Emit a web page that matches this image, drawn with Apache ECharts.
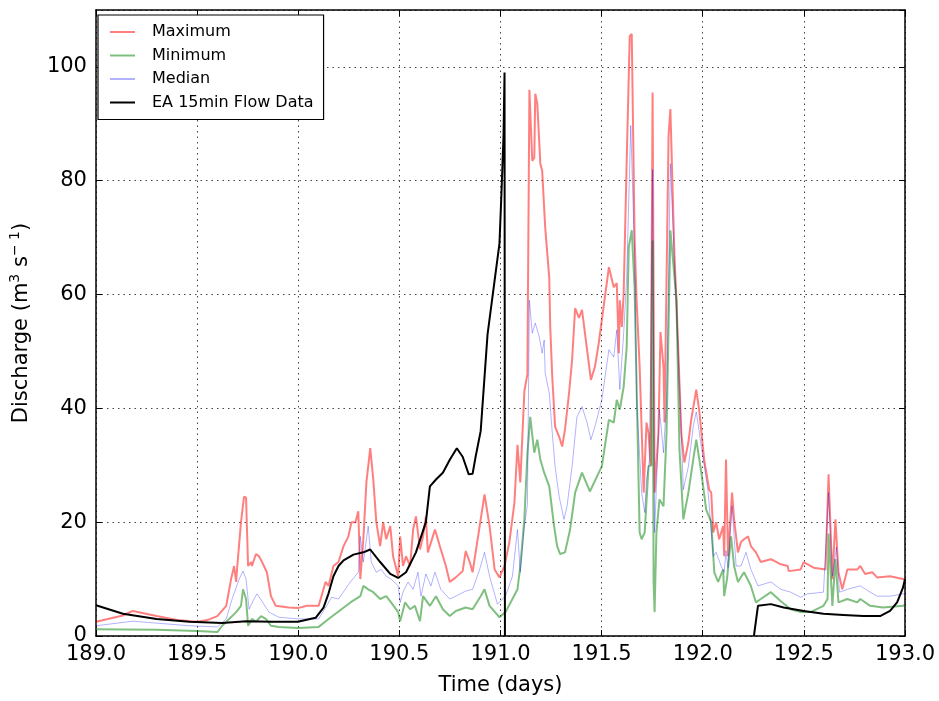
<!DOCTYPE html>
<html>
<head>
<meta charset="utf-8">
<script src="https://cdn.jsdelivr.net/npm/echarts@6/dist/echarts.min.js"></script>
<style>
html,body{margin:0;padding:0;background:#fff;}
#chart{width:939px;height:701px;}
</style>
</head>
<body>
<div id="chart"></div>
<script>
// ---- Data (time in days, discharge in m3/s) ----
const seriesNames = ['Maximum', 'Minimum', 'Median', 'EA 15min Flow Data'];
const xTicks = [189.0, 189.5, 190.0, 190.5, 191.0, 191.5, 192.0, 192.5, 193.0];
const yTicks = [0, 20, 40, 60, 80, 100];

const maxTime = [189.000,189.133,189.182,189.300,189.400,189.500,189.550,189.600,189.644,189.668,189.683,189.693,189.698,189.717,189.732,189.742,189.752,189.767,189.771,189.791,189.806,189.821,189.845,189.865,189.889,189.953,189.998,190.042,190.101,190.135,190.150,190.174,190.199,190.224,190.248,190.263,190.283,190.297,190.307,190.322,190.337,190.356,190.371,190.386,190.405,190.420,190.435,190.455,190.469,190.494,190.504,190.518,190.533,190.553,190.568,190.582,190.602,190.617,190.631,190.641,190.676,190.700,190.730,190.749,190.779,190.813,190.828,190.848,190.862,190.897,190.921,190.946,190.971,190.995,191.020,191.044,191.069,191.084,191.098,191.118,191.133,191.143,191.157,191.167,191.172,191.182,191.197,191.206,191.221,191.241,191.246,191.256,191.270,191.290,191.305,191.319,191.339,191.354,191.369,191.388,191.403,191.428,191.447,191.467,191.486,191.501,191.536,191.560,191.575,191.585,191.590,191.600,191.609,191.624,191.639,191.649,191.663,191.673,191.688,191.708,191.722,191.732,191.742,191.752,191.762,191.781,191.791,191.806,191.811,191.831,191.840,191.860,191.870,191.894,191.909,191.929,191.943,191.968,191.983,192.007,192.032,192.042,192.052,192.066,192.081,192.101,192.106,192.115,192.125,192.145,192.155,192.174,192.189,192.204,192.224,192.238,192.263,192.287,192.337,192.386,192.420,192.425,192.484,192.499,192.548,192.607,192.622,192.641,192.656,192.671,192.690,192.715,192.764,192.779,192.803,192.838,192.862,192.926,192.990,193.000];
const maxFlow = [2.5,3.6,4.4,3.5,2.8,2.5,2.8,3.5,5.3,10,12.3,9.5,12,20,24.5,24.3,12.3,13,12.3,14.4,14,13,11.2,7,5.3,5,4.9,5.3,5.3,9.5,8.8,12.3,13,15.8,17.5,20,20,21.9,10,17,27,33,27.5,20,15.8,20,17,19.3,14,10.5,17.5,12.3,14,12.3,18.7,21,15.2,17.5,21,14.7,18.7,15.8,12.3,9.5,10.3,11.4,14.9,13,11.2,19.3,24.9,19.3,11.7,10.3,12.3,16.5,23.5,33.6,27,43,46,96,83.5,84,95.3,93.5,83,81.8,71.8,63,54.3,45.5,36.8,35,33.3,36.3,42.7,48.5,57.6,55.9,57.3,50.3,45,47.3,51.5,55.5,64.8,61.3,62,49.7,59,54.3,60.2,83.5,105.4,105.8,70,59,47.3,25.2,37.5,35.7,30,95.5,25.2,35.7,53.4,47.3,37.5,88,92.6,67,59,35.7,30.5,34,38,43.3,39.5,31,25.7,25.2,18.2,20,17,19.3,14,31,14,25.2,20.5,14.7,16.5,17,17.5,15.8,14.7,13,13.5,12.6,12.3,11.4,11.7,13,12,11.7,28.4,10,20.5,11.2,8.2,11.7,11.7,12.3,10.9,11.2,10.3,10.5,10,10];

const minTime = [189.000,189.300,189.500,189.600,189.624,189.658,189.693,189.717,189.727,189.742,189.752,189.771,189.791,189.816,189.840,189.865,189.904,189.998,190.101,190.150,190.258,190.307,190.322,190.346,190.371,190.405,190.435,190.459,190.494,190.504,190.528,190.553,190.577,190.602,190.617,190.651,190.681,190.715,190.749,190.779,190.828,190.862,190.902,190.921,190.946,190.995,191.025,191.059,191.084,191.098,191.118,191.133,191.147,191.167,191.182,191.197,191.216,191.241,191.265,191.280,191.295,191.319,191.344,191.369,191.403,191.442,191.486,191.501,191.536,191.560,191.575,191.590,191.609,191.624,191.634,191.649,191.663,191.688,191.698,191.713,191.732,191.747,191.752,191.757,191.762,191.771,191.786,191.806,191.821,191.840,191.870,191.885,191.904,191.929,191.953,191.968,191.993,192.017,192.042,192.057,192.076,192.101,192.106,192.120,192.140,192.155,192.174,192.204,192.238,192.263,192.287,192.337,192.386,192.435,192.484,192.533,192.597,192.617,192.622,192.641,192.656,192.671,192.715,192.764,192.779,192.828,192.892,192.990,193.000];
const minFlow = [1.2,1.1,0.9,0.7,1.8,3,4.2,5.3,8.2,6.5,1.8,3,2.5,3.5,3,1.8,1.6,1.4,1.6,3,5.9,7,8.8,8.2,7.7,6.5,7,5.9,4.2,2.6,5.9,4.7,5.3,2.6,7,5.3,7,4.7,3.5,4.4,5,4.7,7,8.2,5.3,3.3,4.2,6.5,8.2,12.3,20.5,32,38.5,32.2,34.5,31,28.7,26.3,19.3,15.8,14.4,14.7,18.7,25.2,28.7,25.4,28.7,29.8,38,37.5,41.5,39.8,43.8,50.8,68.3,71.3,61.3,18.2,17,18.2,29.8,30,69.5,9.5,4.2,18.2,24,22.8,35.7,71.3,59,32.7,20.5,25.2,31,34.5,28.7,22.2,20,11.2,9.5,11.7,7,10,17.5,12.3,9.5,11.2,8.8,5.9,6.5,7.7,6.1,4.7,4.2,4.2,5.3,6.5,18,5.3,13.5,5.9,6.5,5.9,6.5,5.3,5,5.3,5.5];

const medTime = [189.000,189.182,189.462,189.600,189.644,189.673,189.708,189.727,189.742,189.757,189.781,189.796,189.821,189.855,189.904,189.998,190.101,190.140,190.165,190.199,190.258,190.297,190.307,190.322,190.346,190.361,190.386,190.410,190.435,190.459,190.494,190.504,190.518,190.543,190.568,190.592,190.607,190.631,190.656,190.676,190.705,190.749,190.779,190.828,190.862,190.897,190.921,190.946,190.985,191.025,191.059,191.084,191.098,191.118,191.133,191.143,191.157,191.172,191.192,191.206,191.216,191.221,191.241,191.256,191.270,191.290,191.314,191.329,191.354,191.378,191.403,191.428,191.447,191.467,191.501,191.536,191.560,191.575,191.590,191.609,191.624,191.644,191.663,191.673,191.698,191.713,191.722,191.737,191.752,191.762,191.771,191.786,191.806,191.821,191.840,191.885,191.904,191.929,191.953,191.968,191.993,192.027,192.052,192.066,192.091,192.106,192.115,192.125,192.145,192.165,192.189,192.214,192.238,192.273,192.337,192.386,192.435,192.484,192.518,192.597,192.622,192.641,192.661,192.676,192.715,192.779,192.828,192.862,192.926,192.990,193.000];
const medFlow = [1.8,2.6,1.8,1.6,3,6.5,10,11.4,10,4.7,6.5,7.4,6.1,4.2,3.3,3,3,5.3,6.8,6.5,9.5,11.2,17.5,13,19.3,13,11.2,11.7,10.5,10,8.8,5.9,7.7,9.5,8.2,11.2,7,10.9,8.8,11.2,8.2,6.5,7,7.9,8.2,11.7,14.7,10.5,5.6,7,10.5,18.7,11.2,19.3,23.1,59,53.2,55,52.5,49.7,52,46.2,42.7,35.7,29.8,24.5,20.5,22.8,29.8,38.5,40.3,37.5,34.5,36.8,41.5,50.3,49,53.8,43.3,53.2,63,89.7,67,41.5,25.2,21.7,27.5,31,82,18.2,26.3,39.8,32.2,41.5,83,44.5,25.7,29.8,36.8,39.4,33.3,25.2,14,14.7,12.3,11.2,15,12,22.8,12.3,12.3,14.7,11.7,8.8,9.5,8.2,7.7,6.8,7.4,7.7,25.2,10.5,15.6,7.7,8.2,8.8,7.7,7,7,7.4,7.4];

const eaTime = [189.000,189.133,189.300,189.462,189.624,189.742,189.870,189.998,190.086,190.125,190.150,190.174,190.199,190.224,190.273,190.322,190.356,190.405,190.455,190.494,190.533,190.582,190.631,190.651,190.681,190.715,190.750,190.784,190.813,190.843,190.862,190.877,190.902,190.936,190.971,190.995,191.005,191.015,191.020,191.022,191.030,192.253,192.273,192.337,192.400,192.499,192.597,192.695,192.794,192.877,192.926,192.961,192.990,193.000];
const eaFlow = [5.4,3.9,3,2.5,2.3,2.6,2.5,2.5,3.2,5,7.5,10.5,12.3,13.3,14.3,14.7,15.2,13,10.9,10.2,11.2,14.7,20,26.3,27.5,28.7,31,33,31.5,28.4,28.5,31.5,36,53,62.5,69,78,88,99,0,null,0,5.3,5.6,5,4.4,3.9,3.7,3.5,3.5,4.4,5.9,8.5,10];

// ---- Chart ----
function pairs(t, v) { return t.map((x, i) => [x, v[i] === null ? '-' : v[i]]); }
const FONT = 'DejaVu Sans';
const colors = ['rgba(255,0,0,0.5)', 'rgba(0,128,0,0.5)', 'rgba(0,0,255,0.3)', '#000'];
const widths = [2, 2, 1, 2];
const datasets = [pairs(maxTime, maxFlow), pairs(minTime, minFlow), pairs(medTime, medFlow), pairs(eaTime, eaFlow)];

const chart = echarts.init(document.getElementById('chart'), null, {renderer: 'canvas'});
const axisCommon = {
  type: 'value',
  axisLine: {show: true, onZero: false, lineStyle: {color: '#000', width: 1.5}},
  axisTick: {show: true, inside: true, length: 6, lineStyle: {color: '#000', width: 1}},
};
chart.setOption({
  animation: false,
  backgroundColor: '#fff',
  color: colors,
  grid: {left: 91, top: 10, width: 814, height: 627, show: false},
  legend: {
    data: seriesNames,
    orient: 'vertical',
    left: 98, top: 15,
    padding: [8, 10, 8, 12],
    itemGap: 5.5,
    itemWidth: 25, itemHeight: 2,
    icon: 'rect',
    backgroundColor: '#fff',
    borderColor: '#000', borderWidth: 1.2, borderRadius: 0,
    textStyle: {fontFamily: FONT, fontSize: 16, color: '#000', lineHeight: 18, padding: [0, 0, 0, 12]},
    selectedMode: false
  },
  xAxis: [
    Object.assign({}, axisCommon, {
      position: 'bottom', min: 189, max: 193, interval: 0.5,
      name: 'Time (days)', nameLocation: 'middle', nameGap: 39,
      nameTextStyle: {fontFamily: FONT, fontSize: 21, color: '#000'},
      axisLabel: {fontFamily: FONT, fontSize: 21, color: '#000', margin: 8,
        formatter: v => xTicks.some(t => Math.abs(t - v) < 1e-6) ? v.toFixed(1) : ''},
      splitLine: {show: true, lineStyle: {color: '#444', type: [1.5, 4], width: 1}}
    }),
    Object.assign({}, axisCommon, {
      position: 'top', min: 189, max: 193, interval: 0.5,
      axisLabel: {show: false}, splitLine: {show: false}
    })
  ],
  yAxis: [
    Object.assign({}, axisCommon, {
      position: 'left', min: 0, max: 110, interval: 20,
      name: 'Discharge (m{sup|3} s{sup|− 1})', nameLocation: 'middle', nameGap: 57, nameRotate: 90,
      nameTextStyle: {fontFamily: FONT, fontSize: 21, color: '#000', lineHeight: 28,
        rich: {sup: {fontFamily: FONT, fontSize: 14, lineHeight: 14, verticalAlign: 'top', color: '#000'}}},
      axisLabel: {fontFamily: FONT, fontSize: 21, color: '#000', margin: 9, showMaxLabel: false,
        formatter: v => yTicks.indexOf(v) >= 0 ? String(v) : ''},
      splitLine: {show: true, lineStyle: {color: '#444', type: [1.5, 4], width: 1}}
    }),
    Object.assign({}, axisCommon, {
      position: 'right', min: 0, max: 110, interval: 20,
      axisLabel: {show: false}, splitLine: {show: false}
    })
  ],
  series: seriesNames.map((n, i) => ({
    name: n, type: 'line', data: datasets[i], xAxisIndex: 0, yAxisIndex: 0,
    symbol: 'none', showSymbol: false, connectNulls: false, z: 2 + i,
    lineStyle: {color: colors[i], width: widths[i]},
    itemStyle: {color: colors[i]}
  }))
});
</script>
</body>
</html>
